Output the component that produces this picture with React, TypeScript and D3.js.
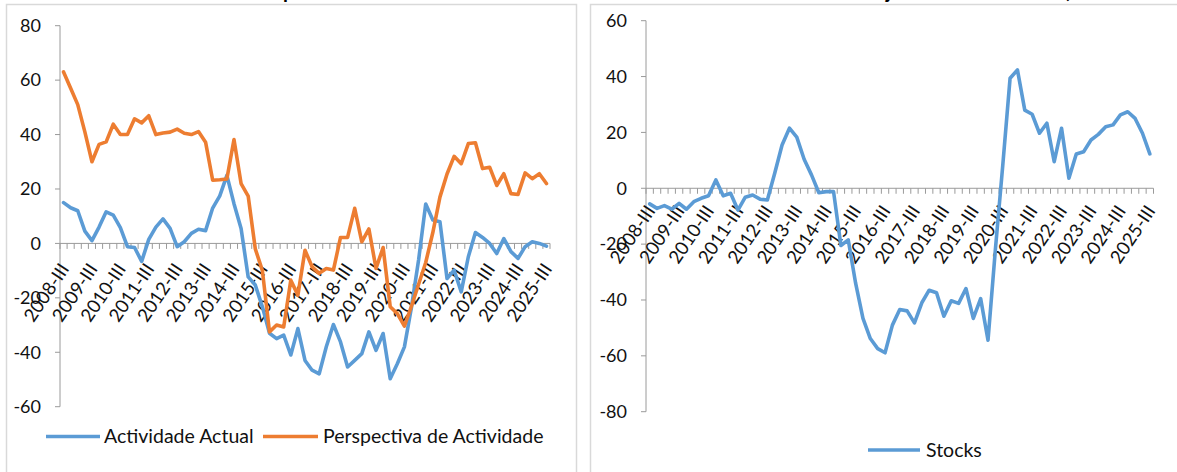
import React from "react";
import * as d3 from "d3";

const categories = [
  "2008-III","2008-IV","2009-I","2009-II","2009-III","2009-IV","2010-I","2010-II",
  "2010-III","2010-IV","2011-I","2011-II","2011-III","2011-IV","2012-I","2012-II",
  "2012-III","2012-IV","2013-I","2013-II","2013-III","2013-IV","2014-I","2014-II",
  "2014-III","2014-IV","2015-I","2015-II","2015-III","2015-IV","2016-I","2016-II",
  "2016-III","2016-IV","2017-I","2017-II","2017-III","2017-IV","2018-I","2018-II",
  "2018-III","2018-IV","2019-I","2019-II","2019-III","2019-IV","2020-I","2020-II",
  "2020-III","2020-IV","2021-I","2021-II","2021-III","2021-IV","2022-I","2022-II",
  "2022-III","2022-IV","2023-I","2023-II","2023-III","2023-IV","2024-I","2024-II",
  "2024-III","2024-IV","2025-I","2025-II","2025-III",
];

const tickLabels = [
  "2008-III","2009-III","2010-III","2011-III","2012-III","2013-III","2014-III","2015-III",
  "2016-III","2017-III","2018-III","2019-III","2020-III","2021-III","2022-III","2023-III",
  "2024-III","2025-III",
];

const actividadeActual = [
  15, 13.1, 12, 4.5, 1, 6, 11.6, 10.4, 5.8, -1.2, -1.5, -6.6, 1.5, 6, 9, 5.5,
  -1.2, 0.6, 3.7, 5.2, 4.7, 13, 17.5, 25, 14.6, 5.5, -12.3, -15.3, -23.3, -33, -35, -33.7,
  -41, -31.3, -43, -46.6, -47.9, -38, -29.8, -36.2, -45.4, -43, -40.5, -32.5, -39.3, -33.1, -49.7, -44.2,
  -38, -23.3, -6, 14.5, 8.6, 8, -12.9, -9.8, -17.8, -4.9, 4, 2.2, 0, -3.7, 1.8, -3,
  -5.5, -1.2, 0.6, 0, -1,
];

const perspectivaActividade = [
  63, 57, 51, 41, 30, 36.4, 37.3, 43.8, 40, 40, 45.8, 44.3, 46.9, 40, 40.6, 40.9,
  42, 40.5, 40, 41.1, 37.2, 23.2, 23.4, 23.7, 38.2, 22, 17.4, -2, -10, -32.5, -30, -30.7,
  -13.5, -19, -2.5, -8.6, -11, -9.2, -9.8, 2.2, 2.2, 12.9, 0.6, 5.3, -9.2, -1.5, -23.3, -25.8,
  -30.4, -23, -15, -7, 4, 17, 25.5, 32, 29.3, 36.7, 37, 27.5, 28, 21.3, 25.6, 18.3,
  18, 25.9, 23.8, 25.6, 22,
];

const stocks = [
  -5.6, -7.2, -6.2, -7.5, -5.4, -7.5, -4.8, -3.6, -2.7, 3, -2.7, -1.8, -7.8, -3.2, -2.4, -3.9,
  -4.2, 5.4, 15.5, 21.5, 18.3, 10.4, 4.8, -1.6, -1.2, -1.2, -20.5, -18.5, -34, -46.6, -53.8, -57.4,
  -58.9, -49, -43.4, -43.9, -48.2, -41, -36.5, -37.4, -45.8, -40.3, -41.2, -35.9, -46.6, -39.5, -54.4, -22,
  8, 39.4, 42.4, 28, 26.5, 19.7, 23.3, 9.5, 21.5, 3.6, 12.3, 13.1, 17.3, 19.3, 22, 22.7,
  26.3, 27.4, 25, 19.7, 12.3,
];

const leftTicks = [80, 60, 40, 20, 0, -20, -40, -60];
const rightTicks = [60, 40, 20, 0, -20, -40, -60, -80];

const BLUE = "#5B9BD5";
const ORANGE = "#ED7D31";
const AXIS = "#9a9a9a";
const FONT = "Lato, 'Open Sans', sans-serif";

type Series = { name: string; values: number[]; color: string };

function Panel(props: {
  x0: number; x1: number; y0: number; y1: number;
  domain: [number, number]; ticks: number[]; series: Series[];
  labelOffset: number;
}) {
  const { x0, x1, y0, y1, domain, ticks, series, labelOffset } = props;
  const xb = d3.scaleBand<string>().domain(categories).range([x0, x1]).padding(0);
  const y = d3.scaleLinear().domain(domain).range([y0, y1]);
  const bw = xb.bandwidth();
  const cx = (c: string) => (xb(c) as number) + bw / 2;
  const zeroY = y(0);
  const line = d3.line<number>()
    .x((_, i) => cx(categories[i]))
    .y((v) => y(v));
  const bounds = d3.range(categories.length + 1).map((k) => x0 + k * bw);
  return (
    <g>
      <line x1={x0} x2={x0} y1={y(ticks[0])} y2={y(ticks[ticks.length - 1])} stroke={AXIS} strokeWidth={1} />
      {ticks.map((t) => (
        <g key={t}>
          <line x1={x0 - 5} x2={x0} y1={y(t)} y2={y(t)} stroke={AXIS} strokeWidth={1} />
          <text x={x0 - 19} y={y(t)} dy="0.35em" textAnchor="end" fontSize={18} fontFamily={FONT} fill="#111">
            {t}
          </text>
        </g>
      ))}
      <line x1={x0} x2={x1} y1={zeroY} y2={zeroY} stroke={AXIS} strokeWidth={1} />
      {bounds.map((bx, k) => (
        <line key={k} x1={bx} x2={bx} y1={zeroY} y2={zeroY + 5.5} stroke={AXIS} strokeWidth={1} />
      ))}
      {tickLabels.map((lab) => (
        <text
          key={lab}
          transform={`translate(${cx(lab) + 1},${zeroY + labelOffset}) rotate(-56)`}
          textAnchor="end"
          dy="0.35em"
          fontSize={18.5}
          fontFamily={FONT}
          fill="#111"
        >
          {lab}
        </text>
      ))}
      {series.map((s) => (
        <path key={s.name} d={line(s.values) as string} fill="none" stroke={s.color}
          strokeWidth={3.6} strokeLinejoin="round" strokeLinecap="round" />
      ))}
    </g>
  );
}

export default function App() {
  const W = 1177, H = 472;
  return (
    <div style={{ position: "absolute", left: 0, top: 0 }}>
      <svg width={W} height={H} style={{ display: "block", background: "#fff" }}>
        <g fontFamily={FONT} fontWeight="bold" fontSize={20} fill="#000">
          <text x={283} y={-2} textAnchor="end">Actividade Actual e Pers</text>
          <text x={283} y={-2}>pectiva de Actividade</text>
          <text x={886} y={-2} textAnchor="end">Nível de Stocks e Con</text>
          <text x={886} y={-2}>juntura da Indústria</text>
          <text x={1064} y={-2}>(Saldos em %)</text>
        </g>
        <rect x={6.5} y={4.5} width={570} height={480} fill="none" stroke="#d9d9d9" strokeWidth={1.5} />
        <rect x={590.5} y={4.5} width={600} height={480} fill="none" stroke="#d9d9d9" strokeWidth={1.5} />

        <Panel
          x0={60} x1={550} y0={406.7} y1={25.7}
          domain={[-60, 80]} ticks={leftTicks}
          labelOffset={22}
          series={[
            { name: "Actividade Actual", values: actividadeActual, color: BLUE },
            { name: "Perspectiva de Actividade", values: perspectivaActividade, color: ORANGE },
          ]}
        />
        <Panel
          x0={646} x1={1153.5} y0={411.7} y1={20.7}
          domain={[-80, 60]} ticks={rightTicks}
          labelOffset={19}
          series={[{ name: "Stocks", values: stocks, color: BLUE }]}
        />

        <g fontFamily={FONT} fontSize={19.5} fill="#111">
          <line x1={46} x2={100} y1={436.5} y2={436.5} stroke={BLUE} strokeWidth={3.6} />
          <text x={104} y={436.5} dy="0.35em">Actividade Actual</text>
          <line x1={263} x2={318} y1={436.5} y2={436.5} stroke={ORANGE} strokeWidth={3.6} />
          <text x={323} y={436.5} dy="0.35em">Perspectiva de Actividade</text>
          <line x1={868} x2={920} y1={450} y2={450} stroke={BLUE} strokeWidth={3.6} />
          <text x={926} y={450} dy="0.35em">Stocks</text>
        </g>
      </svg>
    </div>
  );
}
